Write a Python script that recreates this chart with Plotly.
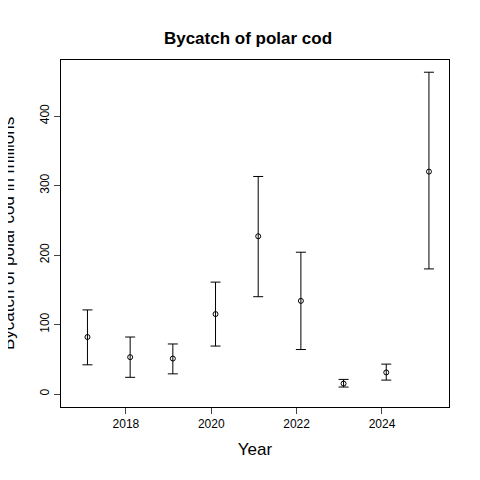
import plotly.graph_objects as go

years = [2017.1, 2018.1, 2019.1, 2020.1, 2021.1, 2022.1, 2023.1, 2024.1, 2025.1]
bycatch = [82, 53, 51, 115, 227, 134, 15, 31, 320]
upper = [121, 82, 72, 161, 313, 204, 21, 43, 463]
lower = [42, 24, 29, 69, 140, 64, 10, 20, 180]

fig = go.Figure(go.Scatter(
    x=years, y=bycatch, mode='markers',
    marker=dict(symbol='circle-open', size=5, color='black', line=dict(width=1)),
    error_y=dict(type='data', symmetric=False,
                 array=[u - b for u, b in zip(upper, bycatch)],
                 arrayminus=[b - l for b, l in zip(bycatch, lower)],
                 color='black', thickness=1, width=5),
    showlegend=False
))

fig.update_layout(
    width=480, height=480,
    margin=dict(l=53, r=39, t=52, b=81, autoexpand=False),
    paper_bgcolor='white', plot_bgcolor='white',
    font=dict(family='Liberation Sans, Arial', color='black'),
    title=dict(text='<b>Bycatch of polar cod</b>', x=0.5, xanchor='center',
               y=0.95, font=dict(size=17)),
    annotations=[dict(text='Bycatch of polar cod in millions', textangle=-90,
                      xref='paper', yref='paper', x=-0.135, y=0.5,
                      xanchor='center', yanchor='middle', showarrow=False,
                      font=dict(size=17))],
)
fig.update_xaxes(range=[2016.48, 2025.57], tickvals=[2018, 2020, 2022, 2024],
                 ticks='outside', ticklen=6, showgrid=False, zeroline=False,
                 showline=True, mirror=True, linecolor='black',
                 tickfont=dict(size=12),
                 title=dict(text='Year', font=dict(size=17), standoff=12))
fig.update_yaxes(range=[-18.7, 480.6], tickvals=[0, 100, 200, 300, 400],
                 ticks='outside', ticklen=6, showgrid=False, zeroline=False,
                 showline=True, mirror=True, linecolor='black',
                 tickangle=-90, tickfont=dict(size=12))

fig.write_html("out.html")
